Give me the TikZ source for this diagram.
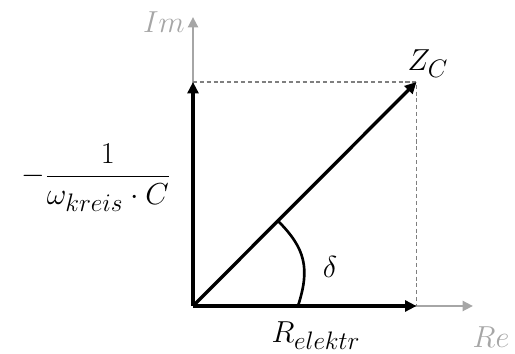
\documentclass[tikz,border=0pt]{standalone}
\usepackage{xcolor}
\usepackage{tikz}
\usetikzlibrary{positioning,arrows.meta,calc}
\DeclareMathSizes{18}{18}{13.5}{10}
\definecolor{axisgray}{HTML}{A6A6A6}
\definecolor{dashgray}{HTML}{7F7F7F}
\newcommand{\labelsize}{\fontsize{18}{21.6}\selectfont}
\tikzset{
    axisline/.style={
        draw=axisgray, line width=1.5pt,
        -{Triangle[length=2.1mm, width=2mm]}
    },
    phasor/.style={
        draw=black, line width=1.9pt,
        -{Triangle[length=2.3mm, width=2.2mm]}
    },
    helper/.style={
        draw=dashgray, line width=0.7pt,
        dash pattern=on 2.3pt off 1.6pt
    },
    anglearc/.style={draw=black, line width=1.5pt},
    axislabel/.style={text=axisgray, font=\labelsize, inner sep=0pt},
    quantity/.style={font=\labelsize, inner sep=0pt},
}

\begin{document}
\begin{tikzpicture}
    \useasboundingbox (0,0) rectangle (10.3,7.08);
    \coordinate (O) at (3.86,0.96);
    \coordinate (reend) at (9.46,0.96);
    \coordinate (imend) at (3.86,6.74);
    \coordinate (rtip) at (8.33,0.96);
    \coordinate (xtip) at (3.86,5.44);
    \coordinate (ztip) at (8.33,5.44);
    % axes
    \draw[axisline] (O) -- (reend);
    \draw[axisline] (O) -- (imend);
    \node[axislabel] (imlabel) at (3.28,6.64) {$Im$};
    \node[axislabel] (relabel) at (9.82,0.34) {$Re$};
    % helper lines
    \draw[helper] (xtip) -- (ztip) -- (rtip);
    % phasors
    \draw[phasor] (O) -- (rtip);
    \draw[phasor] (O) -- (xtip);
    \draw[phasor] (O) -- (ztip);
    \draw[anglearc] ($(O)+(2.10,0)$) to[out=72, in=-45, looseness=1.15] ($(O)!0.38!(ztip)$);
    \node[quantity] (zlabel) at (8.56,5.80) {$Z_C$};
    \node[quantity] (rlabel) at (6.32,0.37) {$R_{elektr}$};
    \node[quantity] (xlabel) at (1.92,3.53) {$-\displaystyle\frac{1}{\omega_{kreis}\cdot C}$};
    \node[quantity] (delta) at (6.60,1.74) {$\delta$};
\end{tikzpicture}
\end{document}
